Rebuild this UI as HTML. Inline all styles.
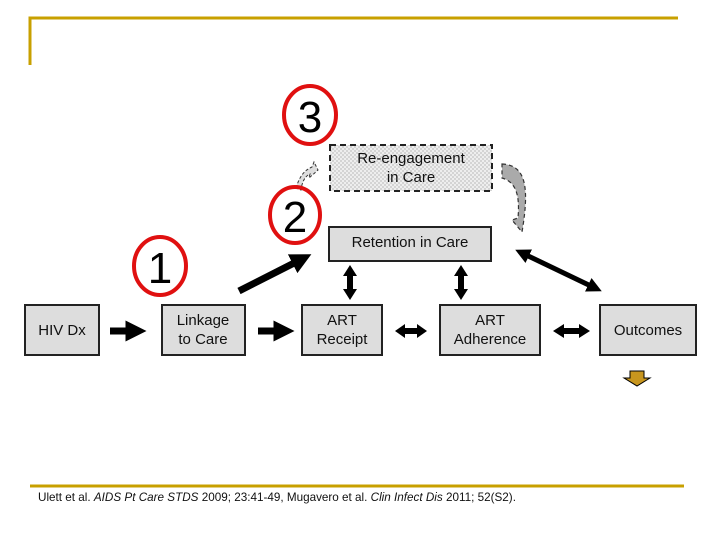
<!DOCTYPE html><html><head><meta charset="utf-8"><style>body{margin:0;background:#fff}svg{display:block}text{font-family:"Liberation Sans",Arial,sans-serif}</style></head><body>
<svg width="720" height="540" viewBox="0 0 720 540" xmlns="http://www.w3.org/2000/svg">
<defs>
<pattern id="chk" width="4" height="4" patternUnits="userSpaceOnUse"><rect width="4" height="4" fill="#eee"/><rect width="2" height="2" fill="#d4d4d4"/><rect x="2" y="2" width="2" height="2" fill="#d4d4d4"/></pattern>
<marker id="ah" markerWidth="3" markerHeight="3" refX="1.5" refY="1.5" orient="auto-start-reverse" markerUnits="strokeWidth"><path d="M0,0 L3,1.5 L0,3z" fill="#000"/></marker>
</defs>
<g stroke="#c8a000" stroke-width="3" fill="none"><path d="M30,65 V18 H678"/><path d="M30,486 H684"/></g>
<g fill="#ddd" stroke="#222" stroke-width="2">
<rect x="25" y="305" width="74" height="50"/><rect x="162" y="305" width="83" height="50"/><rect x="302" y="305" width="80" height="50"/><rect x="440" y="305" width="100" height="50"/><rect x="600" y="305" width="96" height="50"/><rect x="329" y="227" width="162" height="34"/>
</g>
<rect x="330" y="145" width="162" height="46" fill="url(#chk)" stroke="#222" stroke-width="2" stroke-dasharray="6,4"/>
<path d="M502,164 C525,165 530,185 522,232 L512,220 L518,218 C520,195 516,182 502,178z" fill="#aaa" stroke="#333" stroke-width="1.2" stroke-dasharray="4,3"/>
<path d="M296,188 C300,175 305,170 312,167 L314,162 L318,170 L309,178 L310,174 C305,176 302,182 301,190z" fill="#ddd" stroke="#333" stroke-width="1" stroke-dasharray="3,2"/>
<g font-size="15" text-anchor="middle" fill="#111">
<text x="62" y="335">HIV Dx</text><text x="203" y="325">Linkage</text><text x="203" y="344">to Care</text>
<text x="342" y="325">ART</text><text x="342" y="344">Receipt</text><text x="490" y="325">ART</text><text x="490" y="344">Adherence</text>
<text x="648" y="335">Outcomes</text><text x="410" y="247">Retention in Care</text>
<text x="411" y="163">Re-engagement</text><text x="411" y="182">in Care</text>
</g>
<g stroke="#000" stroke-width="7" fill="none">
<line x1="110" y1="331" x2="136" y2="331" marker-end="url(#ah)"/>
<line x1="258" y1="331" x2="284" y2="331" marker-end="url(#ah)"/>
<line x1="239" y1="291" x2="302" y2="259" marker-end="url(#ah)"/>
<line x1="522" y1="253" x2="595" y2="288" stroke-width="5" marker-start="url(#ah)" marker-end="url(#ah)"/>
</g>
<g fill="#000">
<path d="M395,331 L405,324 L405,328 L417,328 L417,324 L427,331 L417,338 L417,334 L405,334 L405,338Z"/>
<path d="M553,331 L564,324 L564,328 L579,328 L579,324 L590,331 L579,338 L579,334 L564,334 L564,338Z"/>
<path d="M350,265 L357,276 L353,276 L353,289 L357,289 L350,300 L343,289 L347,289 L347,276 L343,276Z"/>
<path d="M461,265 L468,276 L464,276 L464,289 L468,289 L461,300 L454,289 L458,289 L458,276 L454,276Z"/>
</g>
<path d="M630,371 H644 V378 H650 L637,386 L624,378 H630z" fill="#c8961e" stroke="#000" stroke-width="1"/>
<g fill="none" stroke="#e01010" stroke-width="4">
<ellipse cx="310" cy="115" rx="26" ry="29"/><ellipse cx="295" cy="215" rx="25" ry="28"/><ellipse cx="160" cy="266" rx="26" ry="29"/>
</g>
<g font-size="44" text-anchor="middle" fill="#000"><text x="310" y="132">3</text><text x="295" y="232">2</text><text x="160" y="283">1</text></g>
<text x="38" y="501" font-size="11.7" fill="#111">Ulett et al. <tspan font-style="italic">AIDS Pt Care STDS</tspan> 2009; 23:41-49, Mugavero et al. <tspan font-style="italic">Clin Infect Dis</tspan> 2011; 52(S2).</text>
</svg></body></html>
